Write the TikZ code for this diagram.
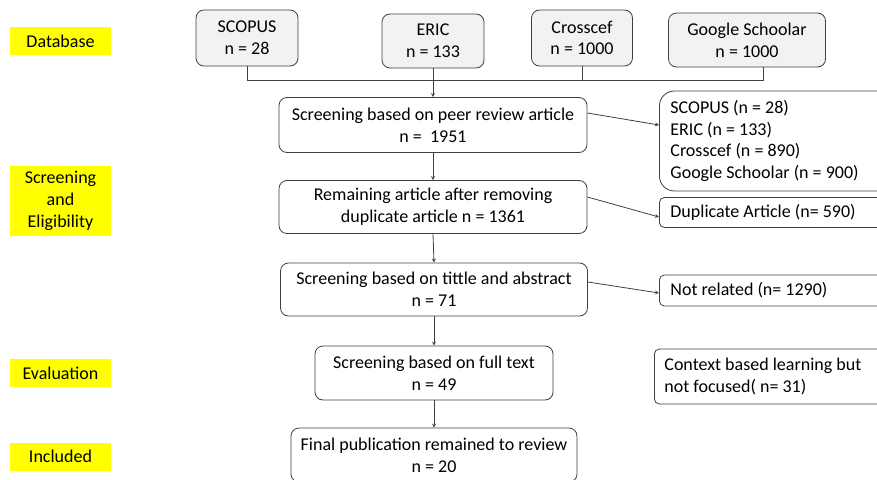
\documentclass[tikz,border=0pt]{standalone}
\usepackage{fontspec}
\setmainfont{Carlito}
\usepackage{tikz}
\usetikzlibrary{arrows, positioning}
\definecolor{stageyellow}{HTML}{FFFF00}
\definecolor{boxgray}{HTML}{F2F2F2}
\definecolor{linegray}{HTML}{404040}
\tikzstyle{stage} = [rectangle, fill=stageyellow, minimum width=101pt, align=center, inner sep=0pt]
\tikzstyle{source} = [rectangle, rounded corners=8pt, draw=linegray, fill=boxgray, align=center]
\tikzstyle{process} = [rectangle, rounded corners=8pt, draw=linegray, fill=white, align=center]
\tikzstyle{removed} = [rectangle, rounded corners=5pt, draw=linegray, fill=white, anchor=west, text width=220pt, align=left, inner xsep=11pt, inner ysep=0pt, execute at begin node={\spaceskip=0pt\xspaceskip=0pt}]
\tikzstyle{arrow} = [->,>=stealth]

\begin{document}
\begin{tikzpicture}[x=1pt, y=-1pt, line width=0.8pt, draw=linegray, font=\fontsize{18}{21.7}\selectfont]
    \useasboundingbox (0,0) rectangle (877,479);
    % Stages
    \node (database) at (60.5,41) [stage, minimum height=28pt] {Database};
    \node (screening) at (60.5,201) [stage, minimum height=70pt] {Screening\\and\\Eligibility};
    \node (evaluation) at (60.5,373) [stage, minimum height=28pt] {Evaluation};
    \node (included) at (60.5,456.5) [stage, minimum height=28pt] {Included};

    % Databases
    \node (scopus) at (247,38) [source, minimum width=102pt, minimum height=56pt] {SCOPUS\\n = 28};
    \node (eric) at (433,41) [source, minimum width=102pt, minimum height=54pt] {ERIC\\n = 133};
    \node (crossref) at (582,38) [source, minimum width=101pt, minimum height=56pt] {Crosscef\\n = 1000};
    \node (google) at (747,40) [source, minimum width=157pt, minimum height=54pt] {Google Schoolar\\n = 1000};
    \coordinate (join) at (433,80);

    % Screening steps
    \node (peer) at (433,125) [process, minimum width=308pt, minimum height=55pt] {Screening based on peer review article\\n =\ \ 1951};
    \node (dedup) at (433,207) [process, minimum width=308pt, minimum height=53pt] {Remaining article after removing\\duplicate article n = 1361};
    \node (title) at (434,289.5) [process, minimum width=307pt, minimum height=53pt] {Screening based on tittle and abstract\\n = 71};
    \node (fulltext) at (434,373) [process, minimum width=238pt, minimum height=54pt] {Screening based on full text\\n = 49};
    \node (final) at (434,455) [process, minimum width=286pt, minimum height=54pt] {Final publication remained to review\\n = 20};

    % Removed records
    \node (perdb) at (659,141) [removed, rounded corners=15pt, minimum height=100pt] {SCOPUS (n = 28)\\ERIC (n = 133)\\Crosscef (n = 890)\\Google Schoolar (n = 900)};
    \node (duplicate) at (659,212.5) [removed, minimum height=30pt] {Duplicate Article (n= 590)};
    \node (unrelated) at (659,290.5) [removed, minimum height=31pt] {Not related (n= 1290)};
    \node (context) at (654,376.5) [removed, inner xsep=10pt, minimum height=55pt] {Context based learning but\\not focused( n= 31)};

    % Connectors
    \draw (scopus.south) |- (join);
    \draw (crossref.south) |- (join);
    \draw ([xshift=16pt]google.south) |- (join);
    \draw [arrow] (eric.south) -- (peer.north);
    \draw [arrow] (peer.south) -- (dedup.north);
    \draw [arrow] (dedup.south) -- (title.north);
    \draw [arrow] (title.south) -- (fulltext.north);
    \draw [arrow] (fulltext.south) -- (final.north);
    \draw [arrow] ([yshift=12pt]peer.east) -- ([yshift=16pt]perdb.west);
    \draw [arrow] ([yshift=10pt]dedup.east) -- ([yshift=-4.5pt]duplicate.west);
    \draw [arrow] ([yshift=7.5pt]title.east) -- ([yshift=-2.5pt]unrelated.west);
\end{tikzpicture}
\end{document}
